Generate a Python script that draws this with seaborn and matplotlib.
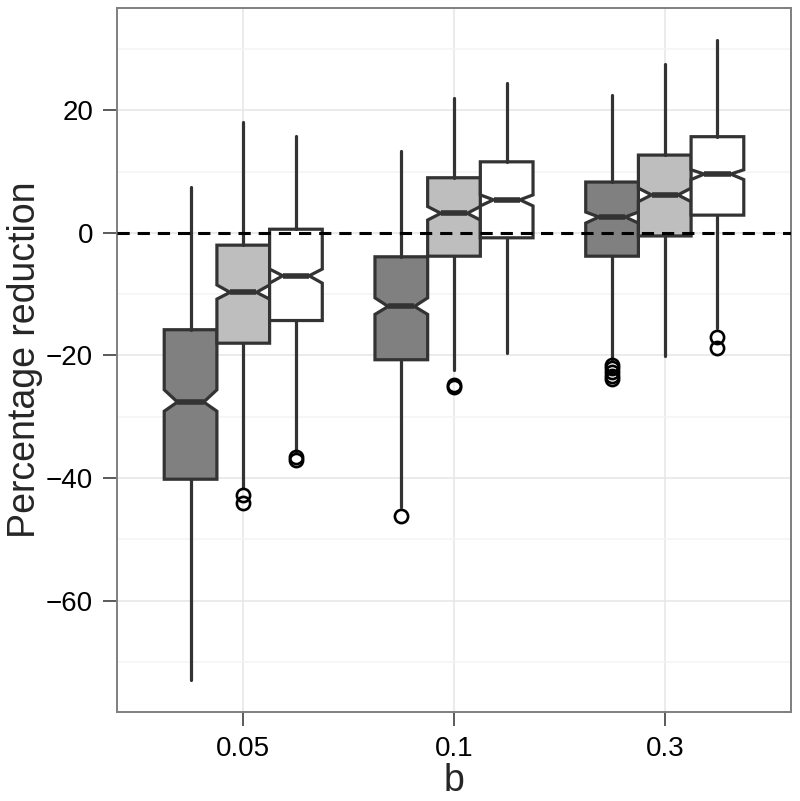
import numpy as np
import seaborn as sns
import matplotlib.pyplot as plt

# categories on the x axis and the three grouped series
b_levels = ['0.05', '0.1', '0.3']
fills = ['#808080', '#BEBEBE', '#FFFFFF']

# series 1 (dark)
dark_whislo = [-73.0, -44.7, -20.7]
dark_q1 = [-40.2, -20.7, -3.8]
dark_med = [-27.6, -12.0, 2.6]
dark_q3 = [-15.8, -3.9, 8.3]
dark_whishi = [7.5, 13.3, 22.5]
dark_cilo = [-29.1, -13.3, 1.6]
dark_cihi = [-25.6, -10.6, 3.4]
dark_fliers = [[], [-46.2], [-21.6, -22.1, -22.7, -23.3, -23.9]]

# series 2 (light grey)
light_whislo = [-41.6, -22.4, -20.1]
light_q1 = [-18.0, -3.8, -0.5]
light_med = [-9.7, 3.2, 6.2]
light_q3 = [-2.0, 9.0, 12.7]
light_whishi = [18.1, 22.0, 27.6]
light_cilo = [-10.8, 2.1, 5.1]
light_cihi = [-8.5, 4.3, 7.3]
light_fliers = [[-42.8, -44.1], [-24.8, -25.2], []]

# series 3 (white)
white_whislo = [-35.8, -19.6, -15.5]
white_q1 = [-14.3, -0.8, 2.9]
white_med = [-7.0, 5.4, 9.6]
white_q3 = [0.6, 11.6, 15.7]
white_whishi = [15.8, 24.5, 31.4]
white_cilo = [-8.2, 4.4, 8.7]
white_cihi = [-5.9, 6.2, 10.3]
white_fliers = [[-36.6, -37.0], [], [-17.0, -18.8]]

series = [
    (dark_whislo, dark_q1, dark_med, dark_q3, dark_whishi, dark_cilo, dark_cihi, dark_fliers),
    (light_whislo, light_q1, light_med, light_q3, light_whishi, light_cilo, light_cihi, light_fliers),
    (white_whislo, white_q1, white_med, white_q3, white_whishi, white_cilo, white_cihi, white_fliers),
]

sns.set_theme(style='whitegrid')
plt.rcParams['font.family'] = ['Liberation Sans', 'DejaVu Sans']

fig = plt.figure(figsize=(8, 8.01), dpi=100)
ax = fig.add_axes([0.146, 0.111, 0.843, 0.879])
ax.set_facecolor('white')

edge = '#333333'
offsets = [-0.25, 0.0, 0.25]
for k, (wlo, q1, med, q3, whi, clo, chi, fl) in enumerate(series):
    stats = []
    for j in range(len(b_levels)):
        stats.append(dict(whislo=wlo[j], q1=q1[j], med=med[j], q3=q3[j], whishi=whi[j],
                          cilo=clo[j], cihi=chi[j], fliers=fl[j]))
    ax.bxp(stats, positions=np.arange(len(b_levels)) + offsets[k], widths=0.25,
           patch_artist=True, shownotches=True, showcaps=False, manage_ticks=False,
           boxprops=dict(facecolor=fills[k], edgecolor=edge, linewidth=2.3),
           whiskerprops=dict(color=edge, linewidth=2.3),
           medianprops=dict(color=edge, linewidth=4),
           flierprops=dict(marker='o', markerfacecolor='none', markeredgecolor='black',
                           markersize=9.5, markeredgewidth=1.9))

ax.axhline(0, color='black', linewidth=2.2, linestyle=(0, (4, 2.6)), zorder=5)

ax.set_xlim(-0.6, 2.6)
ax.set_ylim(-78.2, 36.7)
ax.set_xticks(range(len(b_levels)))
ax.set_xticklabels(b_levels)
ax.set_yticks([-60, -40, -20, 0, 20])
ax.set_yticks([-70, -50, -30, -10, 10, 30], minor=True)

ax.grid(True, which='major', color='#E5E5E5', linewidth=1.1)
ax.grid(True, which='minor', axis='y', color='#F4F4F4', linewidth=1.1)
ax.set_axisbelow(True)

for s in ax.spines.values():
    s.set_visible(True)
    s.set_color('#7F7F7F')
    s.set_linewidth(1.4)

ax.tick_params(axis='both', which='major', length=10, width=1.3, color='#4D4D4D',
               labelsize=20, labelcolor='black', pad=7, direction='out',
               left=True, bottom=True)
ax.tick_params(axis='y', which='minor', length=0, left=False)

ax.set_xlabel('b', fontsize=27, labelpad=1)
ax.set_ylabel('Percentage reduction', fontsize=27, labelpad=2)

fig.savefig('out.png', dpi=100)
